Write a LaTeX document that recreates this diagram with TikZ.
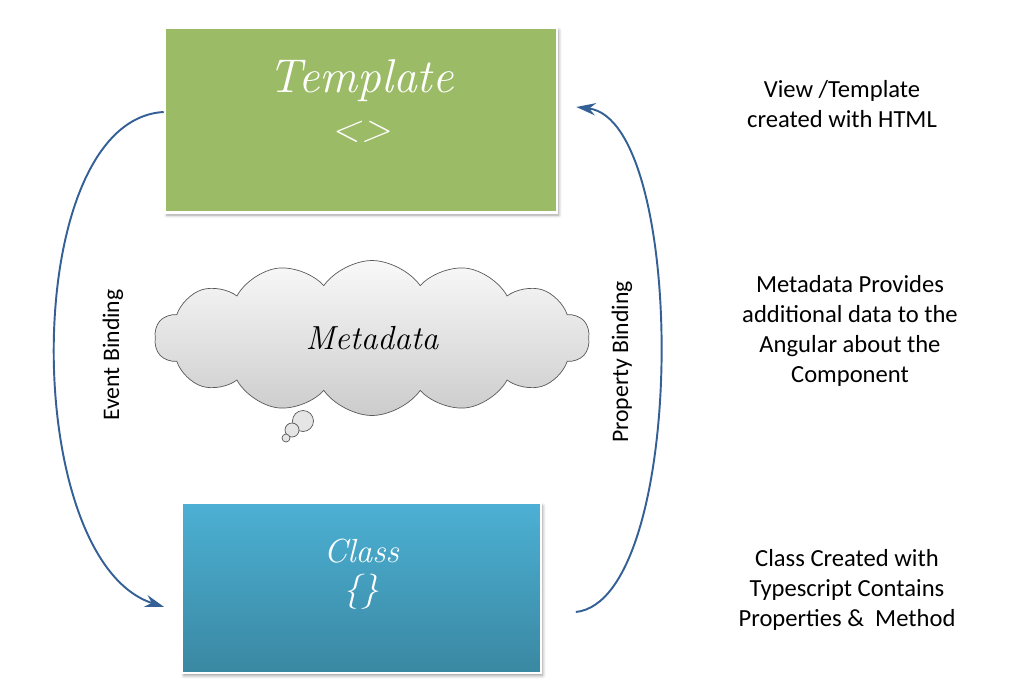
\documentclass[tikz,border=0pt]{standalone}
\usepackage{fontspec}
\newfontfamily\notefont{Carlito}
\usetikzlibrary{shapes, arrows.meta, calc, shadows.blur}
\definecolor{tmplgreen}{RGB}{155,187,102}
\definecolor{clstop}{RGB}{76,176,212}
\definecolor{clsbot}{RGB}{58,136,162}
\definecolor{bindblue}{RGB}{52,96,150}

\begin{document}
\begin{tikzpicture}[
        % 定义样式 (1 单位 = 1 像素)
        x=0.02cm, y=-0.02cm,
        tmplbox/.style={
            draw=white, line width=1.5pt, fill=tmplgreen,
            minimum width=7.84cm, minimum height=3.7cm,
            blur shadow={shadow xshift=1pt, shadow yshift=-1.5pt, shadow blur steps=4}
        },
        clsbox/.style={
            draw=white, line width=1pt, top color=clstop, bottom color=clsbot,
            minimum width=7.18cm, minimum height=3.4cm,
            blur shadow={shadow xshift=1pt, shadow yshift=-1.5pt, shadow blur steps=4}
        },
        metacloud/.style={
            cloud, cloud puffs=14, cloud puff arc=110, aspect=2.8,
            minimum width=8.7cm, minimum height=3.1cm,
            draw=gray!70!black, top color=gray!5, bottom color=gray!40,
            font=\itshape\fontsize{19}{22}\selectfont
        },
        bubble/.style={circle, draw=gray!70!black, fill=gray!20, inner sep=0pt},
        boxtext/.style={text=white, align=center, font=\itshape},
        bindlabel/.style={rotate=90, font=\notefont\fontsize{13.5}{16}\selectfont},
        note/.style={align=center, font=\notefont\fontsize{14}{17}\selectfont},
        bind/.style={-{Stealth[length=11pt, width=7pt]}, line width=1.1pt, color=bindblue}
    ]
    \useasboundingbox (0,0) rectangle (1022,700);

    % 1. 绘制各个节点
    % 模板 (绿色方框)
    \node (tmpl) [tmplbox] at (361,120) {};
    \node (tmpl_txt) [boxtext] at (361,101)
        {{\fontsize{27}{28}\selectfont Template}\\[10pt]{\fontsize{22}{22}\selectfont <>}};

    % 元数据 (云朵)
    \node (meta) [metacloud] at (372,338) {Metadata};
    \node (bub_a) [bubble, minimum size=0.42cm] at (303,421) {};
    \node (bub_b) [bubble, minimum size=0.28cm] at (292,430) {};
    \node (bub_c) [bubble, minimum size=0.16cm] at (286,438) {};

    % 类 (蓝色方框)
    \node (cls) [clsbox] at (361.5,588) {};
    \node (cls_txt) [boxtext] at (361.5,574)
        {{\fontsize{19}{17}\selectfont Class}\\[5pt]{\fontsize{20}{18}\selectfont\{\}}};

    % 右侧说明
    \node (view_note) [note] at (842,104) {View /Template\\created with HTML};
    \node (meta_note) [note] at (850,331) {Metadata Provides\\additional data to the\\Angular about the\\Component};
    \node (cls_note) [note] at (847,590) {Class Created with\\Typescript Contains\\Properties \&\ \ Method};

    % 2. 绘制绑定曲线
    % 事件绑定: 模板 -> 类
    \draw[bind] ($(tmpl.west)+(0,-8)$) .. controls +(-145,8) and +(-145,-47) .. ($(cls.west)+(-17,19)$);
    \node (event_lbl) [bindlabel] at (113,355) {Event Binding};

    % 属性绑定: 类 -> 模板
    \draw[bind] ($(cls.east)+(34,24)$) .. controls +(112,-12) and +(112,13) .. ($(tmpl.east)+(18,-13)$);
    \node (prop_lbl) [bindlabel] at (622,362) {Property Binding};

\end{tikzpicture}
\end{document}
